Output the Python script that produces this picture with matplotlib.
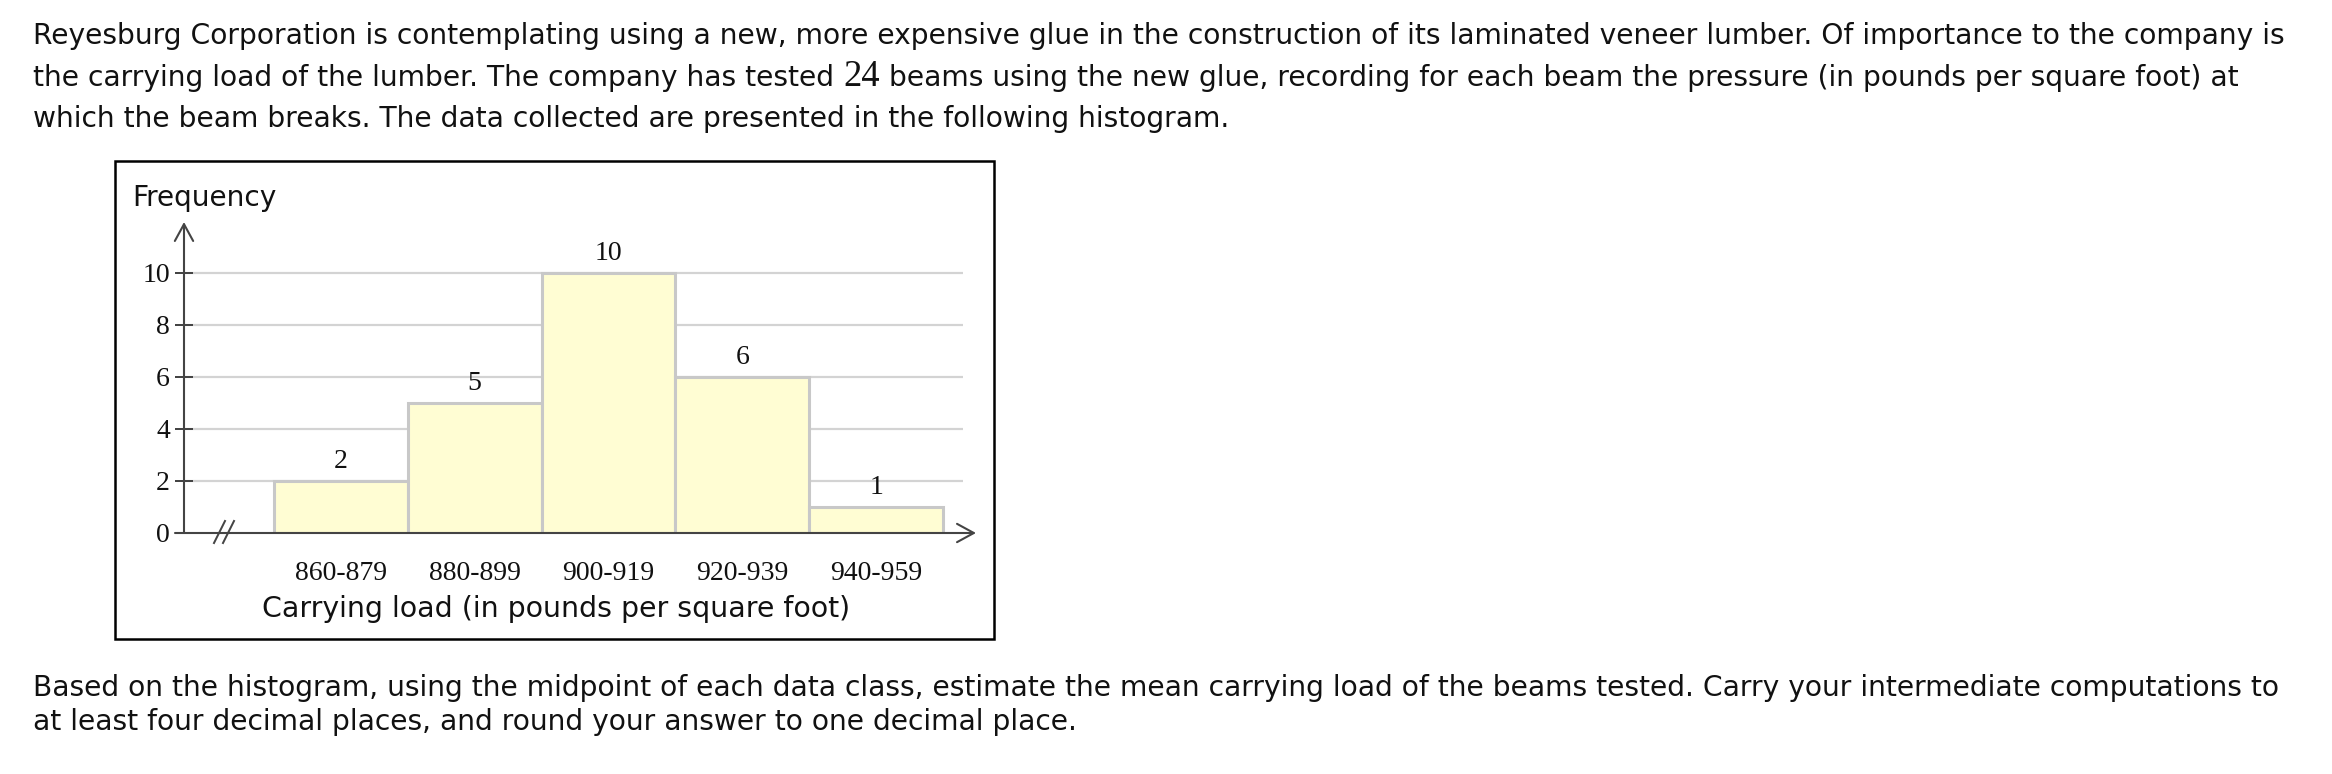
import matplotlib
matplotlib.use('Agg')
import matplotlib.pyplot as plt
from matplotlib.lines import Line2D
from matplotlib.patches import Rectangle

# ---------------- data ----------------
categories = ['860-879', '880-899', '900-919', '920-939', '940-959']
frequencies = [2, 5, 10, 6, 1]
y_ticks = [0, 2, 4, 6, 8, 10]
y_label = 'Frequency'
x_label = 'Carrying load (in pounds per square foot)'

intro_line1 = ('Reyesburg Corporation is contemplating using a new, more expensive glue in the '
               'construction of its laminated veneer lumber. Of importance to the company is')
intro_line2a = 'the carrying load of the lumber. The company has tested '
intro_num = '24'
intro_line2b = (' beams using the new glue, recording for each beam the pressure '
                '(in pounds per square foot) at')
intro_line3 = 'which the beam breaks. The data collected are presented in the following histogram.'
question_line1 = ('Based on the histogram, using the midpoint of each data class, estimate the mean '
                  'carrying load of the beams tested. Carry your intermediate computations to')
question_line2 = 'at least four decimal places, and round your answer to one decimal place.'

# ---------------- figure ----------------
W, H = 2332, 774
fig = plt.figure(figsize=(W / 100, H / 100), dpi=100)
fig.patch.set_facecolor('white')
r = fig.canvas.get_renderer()

SANS = ['DejaVu Sans']
SERIF = ['Liberation Serif', 'DejaVu Serif']
AX_COL = '#444444'
TXT = '#111111'


def fx(x):
    return x / W


def fy(y):
    return 1 - y / H


def fit(t, width):
    bb = t.get_window_extent(r)
    t.set_fontsize(t.get_fontsize() * width / bb.width)
    return t


# ---- paragraph text ----
t1 = fig.text(fx(33), fy(43.5), intro_line1, family=SANS, fontsize=20, va='baseline', color=TXT)
fit(t1, 2258)
body_fs = t1.get_fontsize()

ta = fig.text(fx(33), fy(85.5), intro_line2a, family=SANS, fontsize=body_fs, va='baseline', color=TXT)
bb = ta.get_window_extent(r)
tn = fig.text(bb.x1 / W, fy(85.5), intro_num, family=SERIF, fontsize=body_fs * 1.3, va='baseline', color=TXT)
bb = tn.get_window_extent(r)
fig.text(bb.x1 / W, fy(85.5), intro_line2b, family=SANS, fontsize=body_fs, va='baseline', color=TXT)
fig.text(fx(33), fy(127), intro_line3, family=SANS, fontsize=body_fs, va='baseline', color=TXT)

fig.text(fx(33), fy(696), question_line1, family=SANS, fontsize=body_fs, va='baseline', color=TXT)
fig.text(fx(33), fy(730), question_line2, family=SANS, fontsize=body_fs, va='baseline', color=TXT)

# ---- chart frame ----
fig.add_artist(Rectangle((fx(115), fy(639)), (994 - 115) / W, (639 - 161) / H,
                         fill=False, ec='black', lw=1.8, transform=fig.transFigure))

# ---- axes ----
px_per_x = (943 - 274) / 5
x0 = -0.5 - (274 - 184) / px_per_x
x1 = 4.5 + (976 - 943) / px_per_x
ytop = (533 - 222) / 26.0
ax = fig.add_axes([fx(184), fy(533), (976 - 184) / W, (533 - 222) / H])
ax.set_xlim(x0, x1)
ax.set_ylim(0, ytop)
for s in ax.spines.values():
    s.set_visible(False)
ax.patch.set_visible(False)

grid_end = 4.5 + (963 - 943) / px_per_x
ax.hlines(y_ticks[1:], x0, grid_end, color='#d3d3d3', lw=1.6, zorder=1)

xpos = list(range(len(categories)))
ax.bar(xpos, frequencies, width=1.0, color='#FFFDD3', edgecolor='#C8C8C8', lw=2.2, zorder=2)
for i, v in zip(xpos, frequencies):
    ax.annotate(str(v), (i, v), xytext=(0, 5), textcoords='offset points', ha='center',
                va='bottom', family=SERIF, fontsize=20, color=TXT)

arrow = dict(arrowstyle='->,head_length=0.55,head_width=0.3', color=AX_COL, lw=1.5,
             mutation_scale=22, shrinkA=0, shrinkB=0)
ax.annotate('', xy=(x0, ytop), xytext=(x0, 0), arrowprops=arrow, annotation_clip=False, zorder=4)
ax.annotate('', xy=(x1, 0), xytext=(x0 - 9 / px_per_x, 0), arrowprops=arrow,
            annotation_clip=False, zorder=4)

ax.set_yticks(y_ticks)
ax.set_yticklabels([str(v) for v in y_ticks], family=SERIF, fontsize=20, color=TXT)
ax.tick_params(axis='y', direction='inout', length=13.5, width=1.44, color=AX_COL, pad=3.5)
ax.set_xticks(xpos)
ax.set_xticklabels(categories, family=SERIF, fontsize=20, color=TXT)
ax.tick_params(axis='x', length=0, pad=20.5)

# axis break marks
for dx in (0, 9):
    fig.add_artist(Line2D([fx(214 + dx), fx(225 + dx)], [fy(543), fy(521)], color=AX_COL,
                          lw=1.44, transform=fig.transFigure))

# axis titles
ft = fig.text(fx(132), fy(206), y_label, family=SANS, fontsize=16, va='baseline', color=TXT)
fit(ft, 145)
xt = fig.text(fx(556), fy(609), x_label, family=SANS, fontsize=16, ha='center', va='center',
              color=TXT)
fit(xt, 588)

fig.savefig('out.png', dpi=100, facecolor='white')
